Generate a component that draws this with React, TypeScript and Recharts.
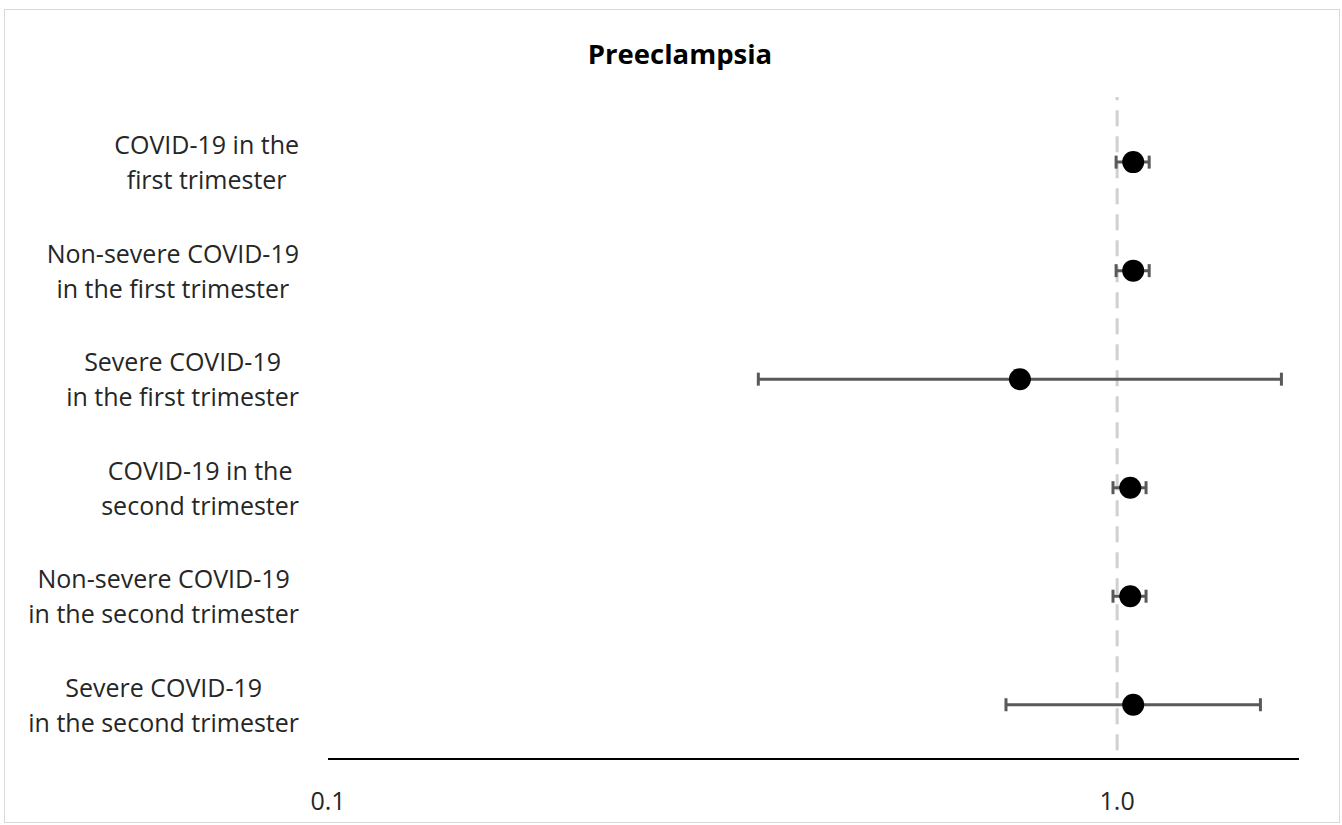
import React from 'react';
import { ScatterChart, Scatter, XAxis, YAxis, ErrorBar, ReferenceLine } from 'recharts';

const TITLE = 'Preeclampsia';
const CATEGORIES: string[][] = [
  ['COVID-19 in the', 'first trimester'],
  ['Non-severe COVID-19', 'in the first trimester'],
  ['Severe COVID-19', 'in the first trimester'],
  ['COVID-19 in the', 'second trimester'],
  ['Non-severe COVID-19', 'in the second trimester'],
  ['Severe COVID-19', 'in the second trimester'],
];
const ESTIMATES = [1.048, 1.048, 0.753, 1.039, 1.039, 1.048];
const LOWER = [0.997, 0.997, 0.351, 0.988, 0.988, 0.723];
const UPPER = [1.098, 1.098, 1.615, 1.088, 1.088, 1.519];
const X_TICKS = [0.1, 1.0];
const X_DOMAIN: [number, number] = [0.1, 1.7];
const Y_DOMAIN: [number, number] = [0, 6.1];
const REF_VALUE = 1;

const FONT = "'Open Sans', sans-serif";
const FONT_SIZE = 25;
const TEXT_COLOR = '#262626';

const n = CATEGORIES.length;
const data = CATEGORIES.map((c, i) => ({
  x: ESTIMATES[i],
  y: n - i - 0.5,
  err: [ESTIMATES[i] - LOWER[i], UPPER[i] - ESTIMATES[i]],
}));
const yTicks = data.map((d) => d.y);

let ctx: CanvasRenderingContext2D | null = null;
function measure(s: string): number {
  if (!ctx && typeof document !== 'undefined') {
    ctx = document.createElement('canvas').getContext('2d');
  }
  if (!ctx) return s.length * FONT_SIZE * 0.55;
  ctx.font = `${FONT_SIZE}px 'Open Sans'`;
  return ctx.measureText(s).width;
}

const LABEL_RIGHT = 299;

const CategoryTick = (props: any) => {
  const { y, payload } = props;
  const idx = Math.round(n - 0.5 - payload.value);
  const lines = CATEGORIES[idx] || [];
  const maxW = Math.max(...lines.map(measure));
  const cx = LABEL_RIGHT - maxW / 2;
  return (
    <g>
      {lines.map((l, k) => (
        <text
          key={k}
          x={cx}
          y={y + (k === 0 ? -8 : 27)}
          textAnchor="middle"
          fontFamily={FONT}
          fontSize={FONT_SIZE}
          fill={TEXT_COLOR}
        >
          {l}
        </text>
      ))}
    </g>
  );
};

const Dot = (props: any) => <circle cx={props.cx} cy={props.cy} r={11} fill="#000" />;

export default function App() {
  return (
    <div style={{ position: 'absolute', left: 0, top: 0, width: 1342, height: 825, background: '#fff', fontFamily: FONT }}>
      <div
        style={{
          position: 'absolute',
          left: 4,
          top: 9,
          width: 1336,
          height: 814,
          border: '1px solid #d9d9d9',
          boxSizing: 'border-box',
        }}
      />
      <div style={{ position: 'absolute', left: 0, top: 0 }}>
        <ScatterChart width={1342} height={825} margin={{ top: 97, right: 43, bottom: 0, left: 0 }}>
          <XAxis
            type="number"
            dataKey="x"
            scale="log"
            domain={X_DOMAIN}
            allowDataOverflow
            ticks={X_TICKS}
            tickFormatter={(v: number) => v.toFixed(1)}
            axisLine={{ stroke: '#000', strokeWidth: 2 }}
            tickLine={false}
            tickSize={0}
            tickMargin={33}
            height={66}
            tick={{ fontFamily: FONT, fontSize: FONT_SIZE, fill: TEXT_COLOR }}
          />
          <YAxis
            type="number"
            dataKey="y"
            domain={Y_DOMAIN}
            ticks={yTicks}
            axisLine={false}
            tickLine={false}
            width={328}
            tick={<CategoryTick />}
          />
          <ReferenceLine
            segment={[
              { x: REF_VALUE, y: 0.08 },
              { x: REF_VALUE, y: Y_DOMAIN[1] },
            ]}
            stroke="#d0d0d0"
            strokeWidth={3}
            strokeDasharray="16 10"
          />
          <Scatter data={data} shape={<Dot />} isAnimationActive={false}>
            <ErrorBar dataKey="err" direction="x" width={6.5} strokeWidth={3} stroke="#595959" />
          </Scatter>
        </ScatterChart>
      </div>
      <svg style={{ position: 'absolute', left: 0, top: 0, pointerEvents: 'none' }} width={1342} height={825}>
        <text x={680} y={64} textAnchor="middle" fontFamily={FONT} fontSize={27.5} fontWeight="bold" fill="#000">
          {TITLE}
        </text>
      </svg>
    </div>
  );
}
